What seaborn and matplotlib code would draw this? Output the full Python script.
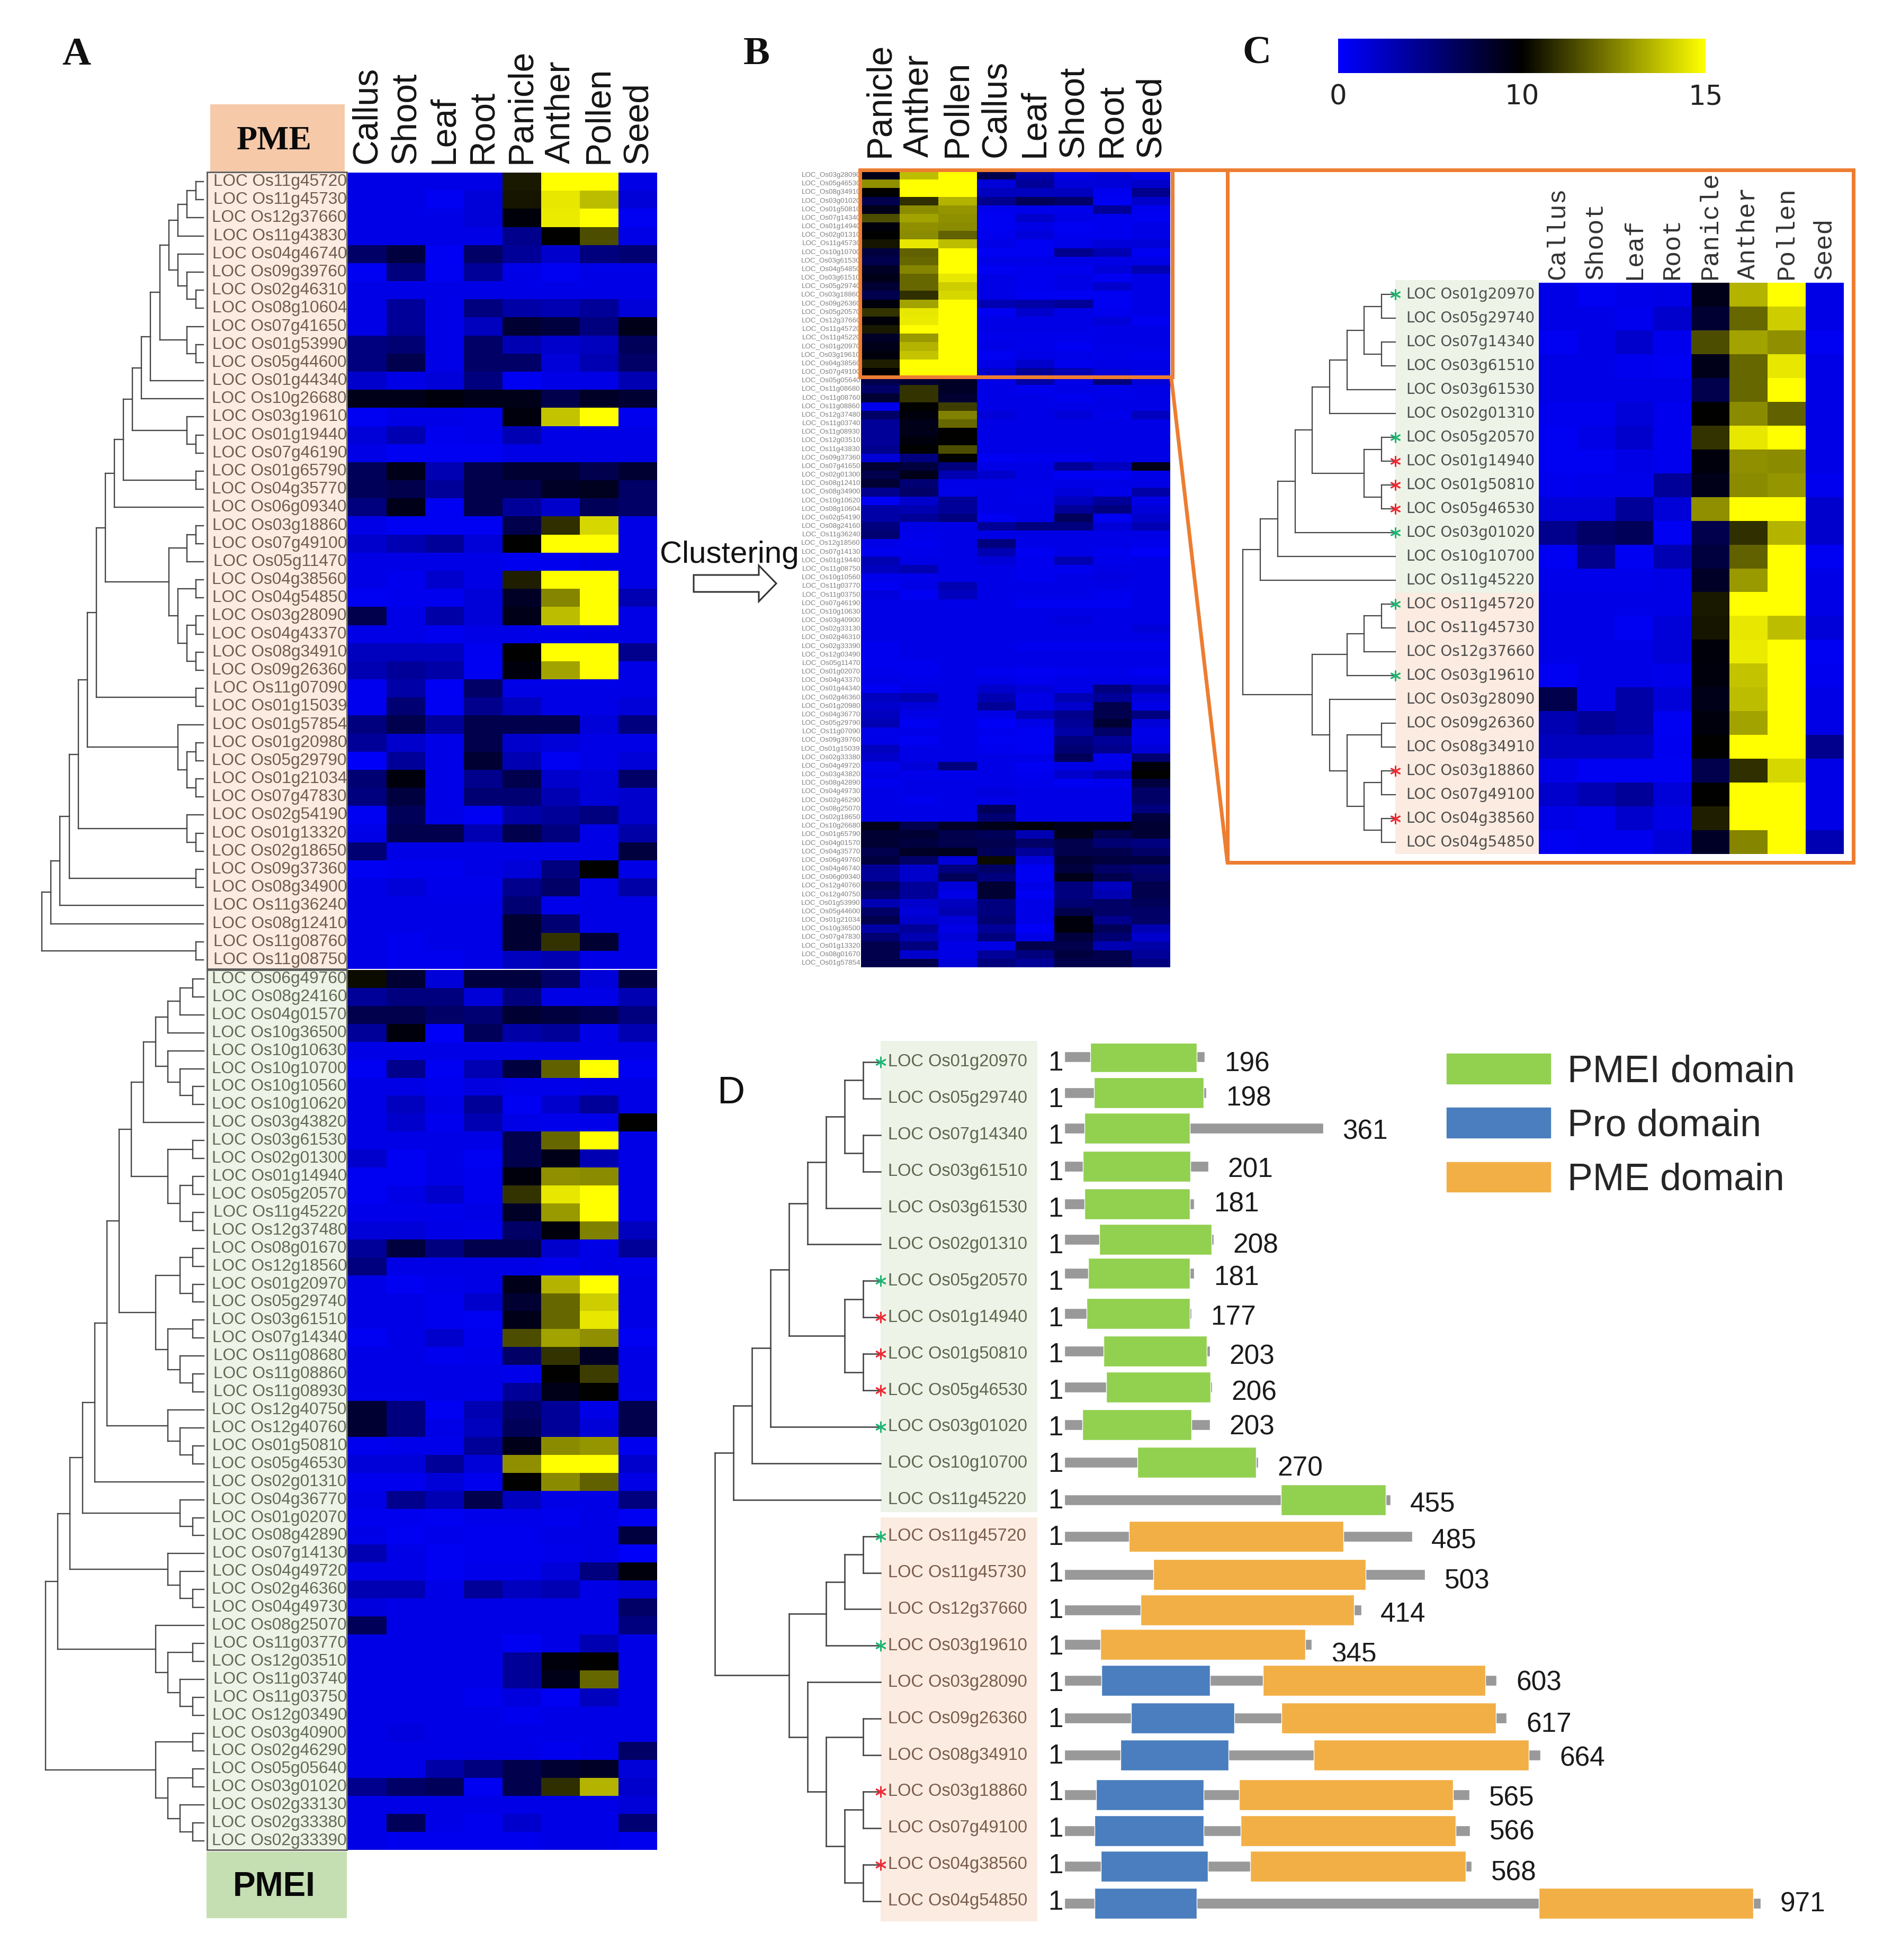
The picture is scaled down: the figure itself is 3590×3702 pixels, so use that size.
"""Pectin methylesterase expression heatmaps, clustering and domain structure."""

import matplotlib

matplotlib.use("Agg")
import matplotlib.pyplot as plt
import numpy as np
import pandas as pd
import seaborn as sns
from matplotlib.colors import LinearSegmentedColormap, TwoSlopeNorm
from matplotlib.patches import FancyArrow, Patch, Rectangle
from matplotlib.transforms import Bbox


WIDTH, HEIGHT = 3591, 3702
TISSUES = ["Callus", "Shoot", "Leaf", "Root", "Panicle", "Anther", "Pollen", "Seed"]
B_TISSUES = ["Panicle", "Anther", "Pollen", "Callus", "Leaf", "Shoot", "Root", "Seed"]

PME_GENES = [
    "11g45720", "11g45730", "12g37660", "11g43830", "04g46740", "09g39760", "02g46310", "08g10604",
    "07g41650", "01g53990", "05g44600", "01g44340", "10g26680", "03g19610", "01g19440", "07g46190",
    "01g65790", "04g35770", "06g09340", "03g18860", "07g49100", "05g11470", "04g38560", "04g54850",
    "03g28090", "04g43370", "08g34910", "09g26360", "11g07090", "01g15039", "01g57854", "01g20980",
    "05g29790", "01g21034", "07g47830", "02g54190", "01g13320", "02g18650", "09g37360", "08g34900",
    "11g36240", "08g12410", "11g08760", "11g08750",
]
PME_VALUES = [
    [1, 1, 1, 1, 10.5, 15, 15, 1],
    [1, 1, .5, 1.5, 10.4, 14.5, 13.7, 1.5],
    [1, 1, 1, 1.5, 9.6, 14.6, 15, .5],
    [1, 1, 1, 1, 4.5, 10, 11.5, 1],
    [6, 7.5, .5, 6, 4, 2, 5, 5.5],
    [.5, 5, .5, 4, 1, .5, 1, 1],
    [1, 1, 1, 1, 1, 1, 1, 1],
    [1, 4, 1, 5, 3.5, 3, 4, 1.5],
    [1, 4, 1, 2.5, 8, 7.5, 5, 9],
    [5, 5.5, 1, 6, 3, 2, 2.5, 6.5],
    [5, 7, 1, 6, 6, 1.5, 3, 6],
    [2, 1, 1.5, 5, .5, 1, 1, 3],
    [9, 9, 9.5, 9, 9, 7, 8.5, 8],
    [.5, 1, 1, .8, 9.5, 13.8, 15, .7],
    [1.5, 3, .7, .8, 3, 1, 1, 1],
    [1, .5, .5, .5, 1, 1, 1, 1],
    [6.5, 9, 3, 7, 8, 8, 7, 8],
    [6.5, 7, 4, 7, 7, 8.5, 8.8, 6],
    [5, 9, .5, 7, 4, 2, 6.5, 6],
    [1, .5, .5, .5, 7, 10.9, 14.2, 1],
    [2, 3, 4, 1.5, 10, 15, 15, 1],
    [1, 1, 1, 1, .7, .7, 1, 1],
    [1, .7, 2, 1, 10.6, 15, 15, 1],
    [.5, .7, .7, 1.5, 8.5, 12.6, 15, 3],
    [7, 1, 3.5, 1.5, 9, 13.7, 15, 1],
    [1, 1, .7, 1, 1, .8, 1, 1],
    [2.5, 2.5, 2.5, .6, 10, 15, 15, 4.5],
    [3, 4, 3.5, .5, 9.5, 13.2, 15, 1],
    [.7, 3.5, .5, 6, 1, 1, 1, 1],
    [.7, 5.5, .5, 4.5, 2.5, 1, 1, 1.5],
    [5, 7, 4, 7, 7, 7, 1.5, 5],
    [4, 2, 1, 7, 2, 1.5, 1, 1],
    [.3, 4, 1, 8, 3, .5, 1, 1.5],
    [5.5, 9.5, 1, 4.5, 7, 2, 1.5, 6],
    [5, 7.5, 1, 5.5, 5.5, 3, 1.5, 2],
    [.5, 6.5, 1, .5, 3.5, 4, 5, 2],
    [1, 7, 7, 3, 7, 5, 1, 3.5],
    [5.5, 1, 1, 1, 1, 1, 1, 7.5],
    [.5, .7, .7, 1, 1.5, 5, 10, 1],
    [1, 1.5, .8, .8, 4.5, 6, 1, 3.5],
    [1, 1, 1, 1, 5.5, .8, 1, 1],
    [1, 1, 1, 1, 8, 5.5, 1, 1],
    [1, .7, 1, 1, 8, 11, 8, 1],
    [1, .7, .7, 1, 2.5, 3, 1, 1],
]

PMEI_GENES = [
    "06g49760", "08g24160", "04g01570", "10g36500", "10g10630", "10g10700", "10g10560", "10g10620",
    "03g43820", "03g61530", "02g01300", "01g14940", "05g20570", "11g45220", "12g37480", "08g01670",
    "12g18560", "01g20970", "05g29740", "03g61510", "07g14340", "11g08680", "11g08860", "11g08930",
    "12g40750", "12g40760", "01g50810", "05g46530", "02g01310", "04g36770", "01g02070", "08g42890",
    "07g14130", "04g49720", "02g46360", "04g49730", "08g25070", "11g03770", "12g03510", "11g03740",
    "11g03750", "12g03490", "03g40900", "02g46290", "05g05640", "03g01020", "02g33130", "02g33380",
    "02g33390",
]
PMEI_VALUES = [
    [10.2, 8, 1.5, 7.5, 7.5, 6, 1.5, 7.5],
    [4, 5, 5, 1.5, 5, 1, 1, 3],
    [7, 7, 6, 5.5, 8, 7.5, 7, 5],
    [4, 9.5, .3, 6.5, 3.5, 4, 1, 3],
    [1, 1, 1, 1, 1, 1, 1, 1],
    [.5, 4.5, .5, 3, 7.5, 11.9, 15, .5],
    [1, 1, .7, 1.2, .8, .8, 1, 1],
    [1, 2.5, 1, 4, .5, 2, 4, 1],
    [1, 2, .7, 3, 1, .8, .8, 10],
    [1, 1, 1, 1, 7, 12, 15, 1],
    [2, .5, 1, .5, 7, 9, 3, 1],
    [.5, .5, 1, .7, 9.5, 12.8, 12.7, 1],
    [.5, 1, 2, .7, 11, 14.5, 15, 1],
    [.8, .8, .8, 1, 8.5, 13, 15, 1],
    [1.5, 1.5, 1, .8, 6, 9.5, 12.5, 2.5],
    [4, 7.5, 5, 7, 7, 2, 1, 4],
    [5, 1, 1, 1, 1, .7, 1, .8],
    [1, .5, .8, 1, 9, 13.5, 15, 1],
    [1, 1, .7, 2, 8, 12, 14, 1],
    [1, 1, .7, .5, 9, 12, 14.5, 1],
    [.5, 1, 2, .7, 11.5, 13.2, 12.8, .5],
    [1, 1, .7, .8, 6, 11, 8.5, 1],
    [1, 1, 1, 1, .8, 10, 11.2, 1],
    [1, 1, 1, 1, 4, 9, 10, 1],
    [8, 5, .5, 3, 6, 4, 1, 7],
    [8, 5, 1, 2.5, 6.5, 4, 1.5, 7],
    [.7, .8, .8, 4, 9, 12.7, 12.9, .7],
    [1.5, 1.5, 4, 1.5, 12.8, 15, 15, 2],
    [.7, .7, 1.5, .7, 10, 12.7, 11.9, 1],
    [1, 4.5, 3, 7, 2.5, 1, 1, 5],
    [.7, .7, .5, .8, .8, .7, 1, .5],
    [1, .5, .8, .7, .7, 1, 1, 7.5],
    [3, 1, .5, .7, .7, .8, 1, .3],
    [1, 1, .5, .8, .8, 1.5, 5, 9.5],
    [3, 3, 1, 4, 2.5, 3, 1, 1.5],
    [1.3, 1, 1, 1, 1, 1, 1, 6],
    [6.5, 1, 1, 1, 1, 1, 1, 5],
    [1, 1, 1, 1, .5, 1, 3, 1],
    [1, 1, 1, 1, 4, 9.5, 10, 1],
    [1, 1, 1, 1, 4, 9, 12, 1],
    [1, 1, 1, .7, 1.3, .5, 2.5, 1],
    [1, 1, 1, 1, .7, 1, 1, 1],
    [1, 1.3, 1, 1, 1, 1, 1, 1],
    [1, 1, 1, 1, 1, .7, 1, 6],
    [1, 1, 3.5, 5, 7, 8, 8.5, 1.5],
    [4.5, 6, 6.5, .5, 7, 10.9, 13.5, 2],
    [1, 1, 1, 1, 1, 1, 1, 1.5],
    [1, 6.5, 1, .7, 2, 1, 1, 5.5],
    [1, .7, .7, .7, .7, 1, 1, .7],
]

B_GENES = [
    "03g28090", "05g46530", "08g34910", "03g01020", "01g50810", "07g14340", "01g14940", "02g01310",
    "11g45730", "10g10700", "03g61530", "04g54850", "03g61510", "05g29740", "03g18860", "09g26360",
    "05g20570", "12g37660", "11g45720", "11g45220", "01g20970", "03g19610", "04g38560", "07g49100",
    "05g05640", "11g08680", "11g08760", "11g08860", "12g37480", "11g03740", "11g08930", "12g03510",
    "11g43830", "09g37360", "07g41650", "02g01300", "08g12410", "08g34900", "10g10620", "08g10604",
    "02g54190", "08g24160", "11g36240", "12g18560", "07g14130", "01g19440", "11g08750", "10g10560",
    "11g03770", "11g03750", "07g46190", "10g10630", "03g40900", "02g33130", "02g46310", "02g33390",
    "12g03490", "05g11470", "01g02070", "04g43370", "01g44340", "02g46360", "01g20980", "04g36770",
    "05g29790", "11g07090", "09g39760", "01g15039", "02g33380", "04g49720", "03g43820", "08g42890",
    "04g49730", "02g46290", "08g25070", "02g18650", "10g26680", "01g65790", "04g01570", "04g35770",
    "06g49760", "04g46740", "06g09340", "12g40760", "12g40750", "01g53990", "05g44600", "01g21034",
    "10g36500", "07g47830", "01g13320", "08g01670", "01g57854",
]
C_GENES = [
    "01g20970", "05g29740", "07g14340", "03g61510", "03g61530", "02g01310", "05g20570", "01g14940",
    "01g50810", "05g46530", "03g01020", "10g10700", "11g45220", "11g45720", "11g45730", "12g37660",
    "03g19610", "03g28090", "09g26360", "08g34910", "03g18860", "07g49100", "04g38560", "04g54850",
]
GREEN_STARS = [0, 6, 10, 13, 16]
RED_STARS = [7, 8, 9, 20, 22]

# domain structure of the C_GENES, in amino acids
LENGTHS = [196, 198, 361, 201, 181, 208, 181, 177, 203, 206, 203, 270,
           455, 485, 503, 414, 345, 603, 617, 664, 565, 566, 568, 971]
PMEI_DOMAINS = [(36, 185), (41, 194), (28, 175), (26, 176), (28, 175), (49, 205), (33, 175),
                (31, 175), (55, 199), (58, 204), (25, 177), (102, 267), (302, 448)]
PRO_DOMAINS = [(52, 203), (93, 237), (78, 229), (44, 194), (42, 194), (51, 200), (42, 185)]
PME_DOMAINS = [(90, 389), (124, 420), (106, 404), (50, 336), (277, 587), (303, 602), (348, 648),
               (244, 542), (246, 546), (259, 560), (662, 961)]
BAR_NUDGE = [-10, -11, -13, -10, -8, -9, -14, -7, -5, -6, -4, -2,
             0, 0, 3, 2, -2, -3, -1, 0, 6, 5, 3, 4]
LABEL_NUDGE = [4, 0, -6, -3, -7, 3, -5, 0, 6, 5, 1, 10,
               8, 9, 16, 10, 18, 2, 12, 7, 13, 8, 16, 6]

# dendrograms: (height, child, child), L is a leaf, leaves run top to bottom
L = None
PME_TREE = (18, (17, (16, (15, (14, (13, (12, (11, (10, (9, (8, (7, (6, (5,
    (4, (3, (2, (1, L, L), L), L), (3, L, (2, L, (1, L, L)))),
    (2, L, (1, L, L))), L), L), (2, L, (1, L, L))), (1, L, L)), L),
    (4, (2, (1, L, L), L), (3, (1, L, L), (2, (1, L, L), (1, L, L))))),
    (1, L, L)), (3, L, (2, (1, L, L), (1, L, L)))), (2, L, (1, L, L))),
    (1, L, L)), L), L), (1, L, L))
PMEI_TREE = (13, (12, (11, (10, (9, (8, (7, (6, (5,
    (4, (3, (2, (1, L, L), L), L), (3, L, (2, L, (1, L, L)))), L),
    (3, (1, L, L), (2, (1, L, L), (1, L, L)))),
    (4, (2, (1, L, L), (1, L, L)), (3, (1, L, L), (2, L, (1, L, L))))),
    (3, L, (2, L, (1, L, L)))), L), (2, L, (1, L, L))),
    (3, L, (2, L, (1, L, L)))),
    (4, L, (3, (1, L, L), (2, L, (1, L, L))))),
    (4, (1, L, L), (3, (1, L, L), (2, L, (1, L, L)))))
SUBSET_TREE = (9, (8, (7, (6, (5, (4, (3, (2, (1, L, L), (1, L, L)), L), L),
    (2, (1, L, L), (1, L, L))), L), L), L),
    (5, (3, (2, (1, L, L), L), L),
     (4, L, (3, (1, L, L), (2, (1, L, L), (1, L, L))))))

SANS = ["Liberation Sans", "DejaVu Sans"]
SERIF = ["Liberation Serif", "DejaVu Serif"]
ORANGE = "#ED7D31"
PME_PALE = "#FBEBE0"
PMEI_PALE = "#EDF3E6"
TREE_COLOR = "#454545"

sns.set_style("white")
plt.rcParams["font.family"] = SANS

cmap = LinearSegmentedColormap.from_list("expr", ["#0000FF", "#000000", "#FFFF00"])
norm = TwoSlopeNorm(vmin=0, vcenter=10, vmax=15)

pme_table = pd.DataFrame(PME_VALUES, index=PME_GENES, columns=TISSUES)
pmei_table = pd.DataFrame(PMEI_VALUES, index=PMEI_GENES, columns=TISSUES)
all_table = pd.concat([pme_table, pmei_table])

fig = plt.figure(figsize=(WIDTH / 100, HEIGHT / 100), dpi=100)


def px_axes(left, top, right, bottom, zorder=2):
    """Add an axes placed by its pixel edges in the finished picture."""
    rect = [left / WIDTH, 1 - bottom / HEIGHT, (right - left) / WIDTH, (bottom - top) / HEIGHT]
    return fig.add_axes(rect, zorder=zorder)


def pt(pixels):
    return pixels * 0.72


def pixel_canvas(zorder):
    ax = px_axes(0, 0, WIDTH, HEIGHT, zorder=zorder)
    ax.set_xlim(0, WIDTH)
    ax.set_ylim(HEIGHT, 0)
    ax.axis("off")
    return ax


def draw_heatmap(table, box, label_prefix, label_style, x_style=None, **kwargs):
    """Draw one expression heatmap with gene names on its left."""
    ax = px_axes(*box)
    sns.heatmap(table, cmap=cmap, norm=norm, ax=ax, cbar=kwargs.pop("cbar", False),
                xticklabels=x_style is not None,
                yticklabels=[label_prefix + gene for gene in table.index], **kwargs)
    ax.set_xlabel("")
    ax.set_ylabel("")
    ax.xaxis.tick_top()
    if x_style:
        ax.tick_params(axis="x", length=0, pad=pt(x_style.pop("pad")))
        plt.setp(ax.get_xticklabels(), rotation=90, ha="center", va="bottom", **x_style)
    ax.tick_params(axis="y", length=0, pad=pt(label_style.pop("pad")))
    plt.setp(ax.get_yticklabels(), rotation=0, **label_style)
    return ax


def draw_tree(ax, node, counter, leaf_height, line_width):
    """Draw a dendrogram recursively and return the height and row of a node."""
    if node is None:
        row = counter[0] + 0.5
        counter[0] += 1
        return leaf_height, row
    height, *children = node
    placed = [draw_tree(ax, child, counter, leaf_height, line_width) for child in children]
    rows = [row for _, row in placed]
    for child_height, row in placed:
        ax.plot([child_height, height], [row, row], color=TREE_COLOR, lw=line_width,
                solid_capstyle="projecting", clip_on=False)
    ax.plot([height, height], [min(rows), max(rows)], color=TREE_COLOR, lw=line_width,
            solid_capstyle="projecting", clip_on=False)
    return height, float(np.mean(rows))


def tree_axes(tree, n_rows, tip, first, step, top, bottom, line_width):
    """Add a dendrogram between tip and root, with heights counted in equal steps."""
    root = tree[0]
    left = first - step * (root - 1)
    ax = px_axes(left, top, tip, bottom)
    leaf_height = 1 - (tip - first) / step
    draw_tree(ax, tree, [0], leaf_height, line_width)
    ax.set_xlim(root, leaf_height)
    ax.set_ylim(n_rows, 0)
    ax.axis("off")
    return ax, leaf_height


def add_stars(ax, x_value, line_size):
    ax.scatter([x_value] * len(GREEN_STARS), np.array(GREEN_STARS) + 0.5, marker=(6, 2, 0),
               s=line_size, color="#1FB573", linewidths=2, clip_on=False, zorder=5)
    ax.scatter([x_value] * len(RED_STARS), np.array(RED_STARS) + 0.5, marker=(6, 2, 0),
               s=line_size, color="#EE2A35", linewidths=2, clip_on=False, zorder=5)


# canvas in pixels for headers, frames and letters
canvas = pixel_canvas(1)
overlay = pixel_canvas(3)


def band(left, top, right, bottom, color, **kwargs):
    canvas.add_patch(Rectangle((left, top), right - left, bottom - top, facecolor=color,
                               edgecolor=kwargs.pop("edgecolor", "none"), **kwargs))


# panel A
band(397, 197, 651, 324, "#F6C9A9")
band(390, 3497, 655, 3623, "#C5DFB3")
band(391, 325, 655, 1830, PME_PALE, edgecolor="#5A5A5A", linewidth=2)
band(391, 1832, 655, 3494, PMEI_PALE, edgecolor="#5A5A5A", linewidth=2)
canvas.text(518, 267, "PME", family=SERIF, weight="bold", fontsize=46, ha="center", va="center",
            color="#0A0A0A")
canvas.text(518, 3564, "PMEI", family=SANS, weight="bold", fontsize=46, ha="center", va="center",
            color="#0A0A0A")

draw_heatmap(pme_table, (657, 326, 1241, 1830), "LOC Os",
             dict(fontsize=22.7, color="#705C50", pad=2),
             dict(fontsize=47.5, color="#151515", pad=17))
draw_heatmap(pmei_table, (657, 1832, 1241, 3494), "LOC Os",
             dict(fontsize=22.7, color="#626A56", pad=2))
tree_axes(PME_TREE, 44, 384, 370, 17.1, 326, 1830, 1.7)
tree_axes(PMEI_TREE, 49, 385, 363.5, 23.1, 1832, 3494, 1.7)

# panel B, same genes clustered again
draw_heatmap(all_table.loc[B_GENES, B_TISSUES], (1626, 323, 2210, 1827), "LOC_Os",
             dict(fontsize=9.6, color="#808080", pad=1),
             dict(fontsize=47.5, color="#151515", pad=26))
canvas.text(1377, 1063, "Clustering", fontsize=42, ha="center", va="baseline", color="#111111")
canvas.add_patch(FancyArrow(1310, 1102, 156, 0, width=32, head_width=68, head_length=33,
                            length_includes_head=True, facecolor="white", edgecolor="#333333",
                            linewidth=2.2))

# panel C with the colour scale
band(2635, 529, 2906, 1120, PMEI_PALE)
band(2635, 1120, 2906, 1613, PME_PALE)
c_table = all_table.loc[C_GENES, TISSUES]
cbar_ax = px_axes(2527, 73, 3221, 138)
draw_heatmap(c_table, (2906, 534, 3482, 1613), "LOC Os",
             dict(fontsize=20, family="DejaVu Sans", color="#505050", pad=8),
             dict(fontsize=35, family="Liberation Mono", color="#333333", pad=6),
             cbar=True, cbar_ax=cbar_ax,
             cbar_kws={"orientation": "horizontal", "ticks": [0, 10, 15]})
cbar_ax.tick_params(axis="x", length=0, pad=pt(21), labelsize=37)
plt.setp(cbar_ax.get_xticklabels(), family="DejaVu Sans", color="#222222")
c_tree, c_leaf = tree_axes(SUBSET_TREE, 24, 2635, 2609, 32.7, 534, 1613, 1.6)
add_stars(c_tree, c_leaf, 170)

# orange links from B to C
overlay.add_patch(Rectangle((1624, 321), 2214 - 1624, 712 - 321, fill=False, edgecolor=ORANGE,
                            linewidth=pt(7)))
overlay.add_patch(Rectangle((2318, 321), 3500 - 2318, 1629 - 321, fill=False, edgecolor=ORANGE,
                            linewidth=pt(7)))
overlay.plot([2214, 2318], [321, 321], color=ORANGE, lw=pt(7))
overlay.plot([2212, 2318], [714, 1629], color=ORANGE, lw=pt(7))

# panel D
d_top, d_row = 1971.5, 68.9
d_bottom = d_top + 24 * d_row
band(1663, 1966, 1959, 2856, PMEI_PALE)
band(1663, 2866, 1959, 3629, PME_PALE)
d_tree, d_leaf = tree_axes(SUBSET_TREE, 24, 1663, 1630.4, 35.1, d_top, d_bottom, 1.9)
add_stars(d_tree, d_leaf, 190)

px_per_aa = 1.354
bars = px_axes(2010, d_top, WIDTH, d_bottom)
bars.set_xlim(0, (WIDTH - 2010) / px_per_aa)
bars.set_ylim(24, 0)
bars.axis("off")
rows = np.arange(24) + 0.5
bar_rows = rows + np.array(BAR_NUDGE) / d_row
bars.barh(bar_rows, LENGTHS, height=20 / d_row, color="#999999")
for row_set, spans, color in [(bar_rows[:13], PMEI_DOMAINS, "#92D050"),
                              (bar_rows[17:], PRO_DOMAINS, "#4A7EBE"),
                              (bar_rows[13:], PME_DOMAINS, "#F2AF45")]:
    starts = np.array([span[0] for span in spans])
    ends = np.array([span[1] for span in spans])
    bars.barh(row_set, ends - starts, left=starts, height=58 / d_row, color=color, zorder=3)
for i, gene in enumerate(C_GENES):
    color = "#5E6650" if i < 13 else "#7A5C4E"
    canvas.text(1677, d_top + rows[i] * d_row, "LOC Os" + gene, fontsize=23.5,
                color=color, ha="left", va="center")
    bars.text(-12, rows[i] + 0.04, "1", fontsize=37, ha="center", va="center", color="#1A1A1A",
              clip_on=False)
    number = bars.text(LENGTHS[i] + 27, rows[i] + LABEL_NUDGE[i] / d_row, str(LENGTHS[i]),
                       fontsize=37, ha="left", va="center", color="#1A1A1A")
    if LENGTHS[i] == 345:
        # the original crop cuts this number at the top of the next row
        number.set_clip_box(fig.dpi_scale_trans.transform_bbox(
            Bbox([[0, (HEIGHT - 3138) / 100], [WIDTH / 100, HEIGHT / 100]])))
        number.set_clip_on(True)

canvas.legend(
    handles=[Patch(color="#92D050", label="PMEI domain"), Patch(color="#4A7EBE", label="Pro domain"),
             Patch(color="#F2AF45", label="PME domain")],
    loc="upper left", bbox_to_anchor=(2732 / WIDTH, 1 - 1990 / HEIGHT), bbox_transform=fig.transFigure,
    frameon=False, fontsize=51.5, borderpad=0, borderaxespad=0, handlelength=2.74, handleheight=0.84,
    labelspacing=0.48, handletextpad=0.45,
)

# panel letters
for letter, x, y, family, weight, size in [("A", 144, 104, SERIF, "bold", 54), ("B", 1429, 103, SERIF, "bold", 54),
                                           ("C", 2373, 102, SERIF, "bold", 54), ("D", 1380, 2065, SANS, "normal", 52)]:
    canvas.text(x, y, letter, family=family, weight=weight, fontsize=size, ha="center", va="center",
                color="#111111")

fig.savefig("out.png", dpi=100, facecolor="white")
